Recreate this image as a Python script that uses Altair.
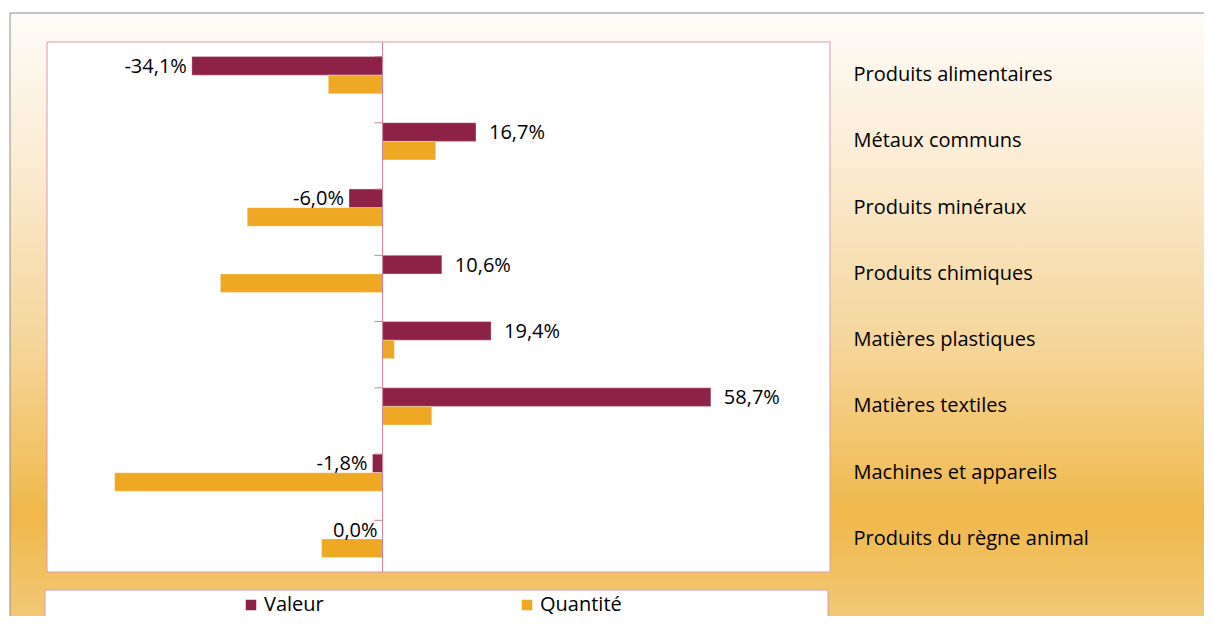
import altair as alt
import pandas as pd

categories = [
    "Produits alimentaires",
    "Métaux communs",
    "Produits minéraux",
    "Produits chimiques",
    "Matières plastiques",
    "Matières textiles",
    "Machines et appareils",
    "Produits du règne animal",
]
valeur = [-34.1, 16.7, -6.0, 10.6, 19.4, 58.7, -1.8, 0.0]
quantite = [-9.7, 9.5, -24.2, -29.0, 2.1, 8.8, -47.9, -10.9]
series = ["Valeur", "Quantité"]
colors = ["#8E2146", "#EFA823"]

FONT = "Open Sans"
FS = 20
W, H = 783, 530
PAD = {"left": 39, "top": 34, "right": 374, "bottom": 44}

rows = []
for c, v, q in zip(categories, valeur, quantite):
    rows.append({"cat": c, "series": "Valeur", "value": v,
                 "label": f"{v:.1f}%".replace(".", ",")})
    rows.append({"cat": c, "series": "Quantité", "value": q, "label": ""})
df = pd.DataFrame(rows)
dval = df[df.series == "Valeur"].copy()
dcat = pd.DataFrame({"cat": categories})
one = pd.DataFrame({"k": [0]})

xscale = alt.Scale(domain=[-60, 80], nice=False, zero=False)
yscale = alt.Scale(domain=categories, paddingInner=0.44, paddingOuter=0.22)

grad = alt.Gradient(
    gradient="linear", x1=0, x2=0, y1=0, y2=1,
    stops=[
        alt.GradientStop(color="#FEFCF8", offset=0.0),
        alt.GradientStop(color="#FBEBD2", offset=0.25),
        alt.GradientStop(color="#F5D598", offset=0.55),
        alt.GradientStop(color="#F0B84B", offset=0.82),
        alt.GradientStop(color="#F2C978", offset=1.0),
    ],
)

bg = alt.Chart(one).mark_rect(color=grad, stroke="#8C8C8C", strokeWidth=1).encode(
    x=alt.value(-37), x2=alt.value(1165), y=alt.value(-29), y2=alt.value(582)
)
plotbox = alt.Chart(one).mark_rect(fill="white", stroke="#D79AB0", strokeWidth=1).encode(
    x=alt.value(0), x2=alt.value(W), y=alt.value(0), y2=alt.value(H)
)
legbox = alt.Chart(one).mark_rect(fill="white", stroke="#D79AB0", strokeWidth=1).encode(
    x=alt.value(-2), x2=alt.value(W - 2), y=alt.value(548), y2=alt.value(580)
)

bars = alt.Chart(df).mark_bar(stroke="white", strokeWidth=0.5, strokeOpacity=0.6).encode(
    x=alt.X("value:Q", scale=xscale, axis=None),
    y=alt.Y("cat:N", scale=yscale, sort=categories,
            axis=alt.Axis(orient="right", title=None, ticks=False, domain=False,
                          labelPadding=23, labelFont=FONT, labelFontSize=FS,
                          labelColor="black", labelLimit=400, zindex=2)),
    yOffset=alt.YOffset("series:N", sort=series, scale=alt.Scale(domain=series, paddingInner=0, paddingOuter=0)),
    color=alt.Color("series:N", sort=series,
                    scale=alt.Scale(domain=series, range=colors),
                    legend=alt.Legend(title=None, orient="none", direction="horizontal",
                                      legendX=194, legendY=553, symbolType="square",
                                      symbolSize=110, symbolStrokeWidth=0,
                                      labelFont=FONT, labelFontSize=FS, labelColor="black",
                                      labelOffset=3, columnPadding=193, padding=0,
                                      zindex=2)),
)

zero = alt.Chart(one).mark_rule(color="#D07E9C", strokeWidth=1).encode(
    x=alt.datum(0, scale=xscale)
)
ticks = alt.Chart(dcat).mark_rule(color="#D07E9C", strokeWidth=1).encode(
    y=alt.Y("cat:N", scale=yscale, sort=categories, bandPosition=0),
    x=alt.datum(0),
    x2=alt.datum(-1.45),
)

txt_common = dict(
    x=alt.X("value:Q", scale=xscale),
    y=alt.Y("cat:N", scale=yscale, sort=categories),
    yOffset=alt.YOffset("series:N", sort=series, scale=alt.Scale(domain=series)),
    text="label:N",
)
lab_neg = alt.Chart(dval).transform_filter("datum.value <= 0").mark_text(
    align="right", baseline="middle", dx=-5, dy=1, font=FONT, fontSize=FS, color="black"
).encode(**txt_common)
lab_pos = alt.Chart(dval).transform_filter("datum.value > 0").mark_text(
    align="left", baseline="middle", dx=13, dy=1, font=FONT, fontSize=FS, color="black"
).encode(**txt_common)

chart = alt.layer(bg, plotbox, legbox, bars, zero, ticks, lab_neg, lab_pos).properties(
    width=W, height=H,
    padding=PAD,
    autosize=alt.AutoSizeParams(type="none"),
).configure_view(stroke=None)

chart.save("out.html", embed_options={"renderer": "svg", "actions": False})
